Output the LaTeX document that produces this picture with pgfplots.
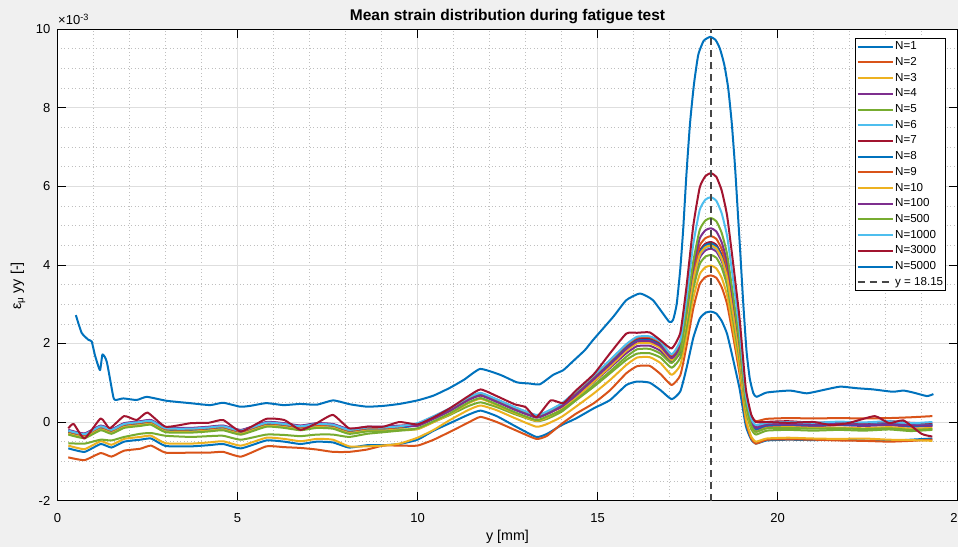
\documentclass[border=0pt]{standalone}
\usepackage{fontspec}
\setmainfont{Liberation Sans}
\usepackage{pgfplots}
\usepackage{pgfplotstable}
\pgfplotsset{compat=1.18}
\usetikzlibrary{backgrounds}

\definecolor{figbg}{RGB}{240,240,240}
\definecolor{m1}{RGB}{0,114,189}
\definecolor{m2}{RGB}{217,83,25}
\definecolor{m3}{RGB}{237,177,32}
\definecolor{m4}{RGB}{126,47,142}
\definecolor{m5}{RGB}{119,172,48}
\definecolor{m6}{RGB}{77,190,238}
\definecolor{m7}{RGB}{162,20,47}
\definecolor{xl}{RGB}{70,70,70}

% mean strain (x1e-3) per cycle count, common y grid
\pgfplotstableread{
x     n1    n2    n3    n4    n5    n6    n7    n8    n9    n10   n100  n500  n1000
0.3   -0.67 -0.90 -0.60 -0.23 -0.54 -0.27 -0.21 -0.25 -0.24 -0.30 -0.20 -0.32 -0.22
0.75  -0.76 -0.97 -0.69 -0.32 -0.55 -0.36 -0.30 -0.34 -0.33 -0.39 -0.29 -0.41 -0.31
1.2   -0.56 -0.79 -0.49 -0.12 -0.45 -0.16 -0.10 -0.14 -0.13 -0.19 -0.09 -0.21 -0.11
1.5   -0.65 -0.88 -0.58 -0.21 -0.47 -0.25 -0.19 -0.23 -0.22 -0.28 -0.18 -0.30 -0.20
1.85  -0.50 -0.73 -0.43 -0.06 -0.38 -0.10 -0.04 -0.08 -0.07 -0.13 -0.03 -0.15 -0.05
2.3   -0.45 -0.68 -0.38 -0.01 -0.30 -0.05  0.01 -0.03 -0.02 -0.08  0.02 -0.10  0.00
2.6   -0.42 -0.60 -0.35  0.02 -0.28 -0.02  0.04  0.00  0.01 -0.05  0.05 -0.07  0.03
3.0   -0.61 -0.78 -0.54 -0.17 -0.35 -0.21 -0.15 -0.19 -0.18 -0.24 -0.14 -0.26 -0.16
3.7   -0.62 -0.78 -0.55 -0.18 -0.38 -0.22 -0.16 -0.20 -0.19 -0.25 -0.15 -0.27 -0.17
4.2   -0.59 -0.78 -0.52 -0.15 -0.36 -0.19 -0.13 -0.17 -0.16 -0.22 -0.12 -0.24 -0.14
4.6   -0.56 -0.76 -0.49 -0.12 -0.35 -0.16 -0.10 -0.14 -0.13 -0.19 -0.09 -0.21 -0.11
5.1   -0.67 -0.88 -0.60 -0.23 -0.45 -0.27 -0.21 -0.25 -0.24 -0.30 -0.20 -0.32 -0.22
5.8   -0.47 -0.62 -0.40 -0.03 -0.32 -0.07 -0.01 -0.05 -0.04 -0.10  0.00 -0.12 -0.02
6.3   -0.50 -0.64 -0.43 -0.06 -0.33 -0.10 -0.04 -0.08 -0.07 -0.13 -0.03 -0.15 -0.05
6.75  -0.56 -0.66 -0.49 -0.12 -0.36 -0.16 -0.10 -0.14 -0.13 -0.19 -0.09 -0.21 -0.11
7.2   -0.50 -0.70 -0.43 -0.06 -0.32 -0.10 -0.04 -0.08 -0.07 -0.13 -0.03 -0.15 -0.05
7.65  -0.52 -0.76 -0.45 -0.08 -0.32 -0.12 -0.06 -0.10 -0.09 -0.15 -0.05 -0.17 -0.07
8.1   -0.65 -0.76 -0.62 -0.21 -0.38 -0.25 -0.19 -0.23 -0.22 -0.28 -0.18 -0.30 -0.20
8.6   -0.59 -0.70 -0.62 -0.15 -0.30 -0.19 -0.13 -0.17 -0.16 -0.22 -0.12 -0.24 -0.14
9.05  -0.59 -0.60 -0.60 -0.15 -0.26 -0.19 -0.13 -0.17 -0.16 -0.22 -0.12 -0.24 -0.14
9.5   -0.56 -0.60 -0.55 -0.12 -0.22 -0.16 -0.10 -0.14 -0.13 -0.19 -0.09 -0.21 -0.11
10.0  -0.45 -0.60 -0.40 -0.08 -0.18 -0.06 -0.05 -0.08 -0.04 -0.18 -0.10 -0.16 -0.03
10.45 -0.22 -0.45 -0.20  0.10  0.00  0.12  0.13  0.10  0.14  0.00  0.08  0.02  0.15
10.9  -0.03 -0.25  0.05  0.30  0.18  0.32  0.33  0.30  0.34  0.20  0.28  0.22  0.35
11.4   0.18 -0.02  0.30  0.57  0.40  0.59  0.60  0.57  0.61  0.47  0.55  0.49  0.62
11.75  0.29  0.13  0.42  0.69  0.50  0.71  0.72  0.69  0.73  0.59  0.67  0.61  0.74
12.2   0.15  0.00  0.30  0.53  0.38  0.55  0.56  0.53  0.57  0.43  0.51  0.45  0.58
12.7  -0.10 -0.20  0.10  0.33  0.20  0.35  0.36  0.33  0.37  0.23  0.31  0.25  0.38
13.3  -0.38 -0.43 -0.12  0.13  0.02  0.15  0.16  0.13  0.17  0.03  0.11  0.05  0.18
13.6  -0.30 -0.35 -0.05  0.22  0.08  0.24  0.25  0.22  0.26  0.12  0.20  0.14  0.27
14.0  -0.08 -0.05  0.13  0.38  0.26  0.44  0.44  0.41  0.46  0.32  0.39  0.30  0.47
14.4   0.09  0.21  0.39  0.64  0.55  0.74  0.73  0.70  0.76  0.61  0.68  0.56  0.78
14.9   0.35  0.48  0.73  1.02  0.90  1.15  1.14  1.11  1.17  1.03  1.09  0.94  1.19
15.35  0.56  0.81  1.07  1.38  1.24  1.54  1.52  1.49  1.56  1.41  1.47  1.29  1.58
15.8   0.94  1.24  1.45  1.75  1.58  1.93  1.91  1.88  1.96  1.81  1.86  1.66  1.98
16.1   1.03  1.42  1.64  1.93  1.74  2.12  2.10  2.07  2.15  2.00  2.05  1.85  2.17
16.45  1.00  1.43  1.65  1.94  1.75  2.13  2.11  2.08  2.16  2.01  2.06  1.86  2.18
16.75  0.81  1.22  1.50  1.81  1.64  2.00  1.98  1.95  2.03  1.88  1.93  1.74  2.05
17.06  0.58  0.94  1.20  1.52  1.38  1.66  1.65  1.62  1.70  1.58  1.62  1.50  1.72
17.3   0.78  1.19  1.45  1.78  1.64  1.91  1.91  1.88  1.97  1.84  1.92  1.83  2.08
17.47  1.36  1.92  2.17  2.53  2.38  2.64  2.68  2.64  2.76  2.60  2.78  2.79  3.12
17.66  2.14  2.89  3.15  3.54  3.39  3.63  3.70  3.66  3.82  3.62  3.94  4.08  4.52
17.84  2.63  3.51  3.76  4.18  4.02  4.25  4.35  4.31  4.49  4.26  4.67  4.89  5.40
18.0   2.78  3.69  3.94  4.37  4.21  4.43  4.54  4.50  4.68  4.45  4.88  5.13  5.66
18.15  2.81  3.73  3.98  4.41  4.25  4.47  4.58  4.54  4.73  4.49  4.93  5.19  5.72
18.3   2.76  3.67  3.91  4.34  4.18  4.40  4.51  4.47  4.66  4.42  4.85  5.11  5.63
18.45  2.57  3.43  3.67  4.09  3.93  4.15  4.25  4.21  4.40  4.16  4.57  4.81  5.31
18.6   2.24  3.00  3.22  3.63  3.47  3.68  3.78  3.74  3.93  3.68  4.07  4.27  4.73
18.77  1.58  2.17  2.34  2.73  2.58  2.78  2.87  2.82  3.01  2.76  3.08  3.20  3.60
18.95  0.83  1.20  1.34  1.69  1.55  1.74  1.82  1.76  1.95  1.69  1.93  1.98  2.30
19.12 -0.10  0.03  0.10  0.42  0.30  0.47  0.53  0.46  0.66  0.39  0.54  0.48  0.70
19.27 -0.45 -0.42 -0.37 -0.06 -0.18 -0.01  0.04 -0.04  0.16 -0.11  0.00 -0.09  0.09
19.4  -0.55 -0.55 -0.50 -0.20 -0.32 -0.15 -0.10 -0.18  0.02 -0.25 -0.15 -0.25 -0.08
19.7  -0.47 -0.45 -0.42 -0.12 -0.22 -0.05  0.00 -0.08  0.08 -0.15 -0.06 -0.16 -0.02
20.3  -0.45 -0.44 -0.40 -0.09 -0.20 -0.03  0.02 -0.06  0.10 -0.13 -0.05 -0.15  0.00
21.0  -0.46 -0.45 -0.42 -0.11 -0.22 -0.05 -0.02 -0.08  0.09 -0.15 -0.07 -0.17 -0.02
21.7  -0.45 -0.47 -0.43 -0.08 -0.20 -0.03  0.00 -0.06  0.10 -0.14 -0.05 -0.16  0.01
22.4  -0.47 -0.48 -0.42 -0.10 -0.22 -0.05 -0.03 -0.08  0.09 -0.16 -0.07 -0.18 -0.01
23.1  -0.48 -0.50 -0.45 -0.08 -0.19 -0.02  0.02 -0.05  0.10 -0.13 -0.06 -0.16  0.02
23.7  -0.45 -0.48 -0.46 -0.12 -0.23 -0.07 -0.02 -0.10  0.12 -0.17 -0.08 -0.20 -0.03
24.3  -0.42 -0.45 -0.48 -0.10 -0.20 -0.04 -0.04 -0.08  0.15 -0.15 -0.09 -0.18  0.00
}\strain

\begin{document}
\begin{tikzpicture}
\begin{axis}[
    name=ax, at={(0pt,0pt)}, anchor=south west,
    scale only axis, width=900pt, height=471.6pt,
    xmin=0, xmax=25, ymin=-2, ymax=10,
    xtick={0,5,...,25}, ytick={-2,0,...,10},
    minor x tick num=4, minor y tick num=3,
    grid=both,
    major grid style={solid, color=black!13, line width=0.6pt},
    minor grid style={dash pattern=on 1pt off 2.5pt, color=black!25, line width=0.5pt},
    tick align=inside, major tick length=9pt, minor tick length=0pt,
    tick style={black, line width=0.6pt},
    axis line style={black, line width=0.6pt},
    axis background/.style={fill=white},
    /pgf/number format/assume math mode=true,
    ticklabel style={font=\fontsize{13}{15}\selectfont},
    xticklabel style={anchor=center, yshift=-17.5pt},
    yticklabel style={anchor=east, inner sep=0pt, xshift=-7pt},
    title={Mean strain distribution during fatigue test},
    title style={font=\bfseries\fontsize{15.5}{17}\selectfont, at={(axis description cs:0.5,1)}, anchor=base, yshift=2.5pt},
    xlabel={y [mm]},
    xlabel style={font=\fontsize{14.3}{16}\selectfont, at={(axis description cs:0.5,0)}, anchor=center, yshift=-36.5pt},
    ylabel={ε\textsubscript{μ} yy [-]},
    ylabel style={font=\fontsize{14.3}{16}\selectfont, at={(axis description cs:-0.0439,0.455)}, anchor=center},
    legend style={at={(axis description cs:0.9872,0.981)}, anchor=north east,
        draw=black, line width=0.6pt, fill=white,
        font=\fontsize{11.6}{13}\selectfont,
        inner xsep=1pt, inner ysep=1.5pt, row sep=1.7pt,
        nodes={inner sep=1.5pt, text height=8.5pt, text depth=2.5pt}},
    legend cell align=left,
    legend image code/.code={\draw[#1] (0pt,0pt) -- (35pt,0pt);},
    every axis plot/.append style={line width=2pt, line join=round},
]
\addplot[m1, smooth, tension=0.3] table[x=x,y=n1]{\strain};
\addplot[m2, smooth, tension=0.3] table[x=x,y=n2]{\strain};
\addplot[m3, smooth, tension=0.3] table[x=x,y=n3]{\strain};
\addplot[m4, smooth, tension=0.3] table[x=x,y=n4]{\strain};
\addplot[m5, smooth, tension=0.3] table[x=x,y=n5]{\strain};
\addplot[m6, smooth, tension=0.3] table[x=x,y=n6]{\strain};
\addplot[m7, smooth, tension=0.3] table[x=x,y=n7]{\strain};
\addplot[m1, smooth, tension=0.3] table[x=x,y=n8]{\strain};
\addplot[m2, smooth, tension=0.3] table[x=x,y=n9]{\strain};
\addplot[m3, smooth, tension=0.3] table[x=x,y=n10]{\strain};
\addplot[m4, smooth, tension=0.3] table[x=x,y=n100]{\strain};
\addplot[m5, smooth, tension=0.3] table[x=x,y=n500]{\strain};
\addplot[m6, smooth, tension=0.3] table[x=x,y=n1000]{\strain};
\addplot[m7, smooth, tension=0.3] coordinates {
    (0.3,-0.16) (0.45,-0.05) (0.75,-0.42) (1.2,0.09) (1.45,-0.16) (1.85,0.15)
    (2.2,0.05) (2.5,0.24) (3.0,-0.12) (3.7,-0.03) (4.2,-0.02) (4.6,0.05)
    (5.1,-0.24) (5.8,0.08) (6.3,0.05) (6.75,-0.2) (7.2,-0.03) (7.65,0.18)
    (8.1,-0.16) (8.6,-0.12) (9.05,-0.12) (9.5,0.0) (10.0,-0.06) (10.45,0.12)
    (10.9,0.35) (11.4,0.65) (11.75,0.83) (12.2,0.66) (12.7,0.45) (13.0,0.38)
    (13.3,0.12) (13.7,0.55) (14.05,0.48) (14.4,0.80) (14.9,1.22) (15.35,1.75)
    (15.8,2.25) (16.1,2.27) (16.45,2.28) (16.75,2.08) (17.06,1.87) (17.3,2.27)
    (17.47,3.43) (17.66,4.99) (17.84,5.97) (18.0,6.26) (18.15,6.33) (18.3,6.24)
    (18.45,5.89) (18.6,5.25) (18.77,4.02) (18.95,2.60) (19.12,0.85) (19.27,0.19)
    (19.4,0.0) (19.7,0.0) (20.3,-0.02) (21.0,0.0) (21.5,-0.08) (22.0,-0.02)
    (22.7,0.15) (23.1,-0.03) (23.5,0.04) (24.0,-0.3) (24.3,-0.37)};
\addplot[m1, smooth, tension=0.3] coordinates {
    (0.51,2.72) (0.67,2.27) (0.86,2.09) (0.95,2.05) (1.04,1.70) (1.18,1.32)
    (1.25,1.72) (1.37,1.53) (1.55,0.64) (1.62,0.56) (1.83,0.60) (2.2,0.56)
    (2.48,0.64) (3.03,0.54) (3.68,0.48) (4.24,0.43) (4.6,0.49) (5.07,0.39)
    (5.35,0.41) (5.8,0.48) (6.28,0.43) (6.75,0.46) (7.2,0.44) (7.66,0.55)
    (8.13,0.45) (8.6,0.39) (9.05,0.41) (9.5,0.46) (10.0,0.55) (10.44,0.67)
    (10.9,0.87) (11.3,1.08) (11.74,1.35) (12.3,1.2) (12.76,1.01) (13.1,0.98)
    (13.4,0.96) (13.77,1.2) (14.05,1.32) (14.3,1.53) (14.65,1.83) (14.88,2.09)
    (15.44,2.68) (15.8,3.1) (16.18,3.27) (16.54,3.1) (16.99,2.55) (17.1,2.6)
    (17.2,3.0) (17.3,3.9) (17.38,4.9) (17.47,6.3) (17.57,7.6) (17.68,8.6)
    (17.8,9.35) (17.95,9.7) (18.13,9.8) (18.28,9.72) (18.4,9.5) (18.52,9.1)
    (18.63,8.5) (18.73,7.6) (18.82,6.5) (18.9,5.3) (18.96,4.4) (19.05,3.0)
    (19.14,1.8) (19.23,1.1) (19.33,0.73) (19.42,0.64) (19.7,0.75) (20.35,0.8)
    (20.81,0.73) (21.3,0.82) (21.74,0.9) (22.2,0.86) (22.65,0.83) (23.2,0.77)
    (23.5,0.8) (23.77,0.75) (24.15,0.66) (24.33,0.71)};
\addplot[xl, dash pattern=on 7pt off 5pt] coordinates {(18.15,-2) (18.15,10)};
\legend{N=1,N=2,N=3,N=4,N=5,N=6,N=7,N=8,N=9,N=10,N=100,N=500,N=1000,N=3000,N=5000,y = 18.15}
\end{axis}
\node[anchor=base west, inner sep=0pt, font=\fontsize{13}{15}\selectfont] at (0.5pt,475.6pt) {×10\textsuperscript{-3}};
\begin{scope}[on background layer]
\fill[figbg] (-57.5pt,-46.4pt) rectangle (900.5pt,500.6pt);
\end{scope}
\pgfresetboundingbox
\useasboundingbox (-57.5pt,-46.4pt) rectangle (900.5pt,500.6pt);
\end{tikzpicture}
\end{document}
